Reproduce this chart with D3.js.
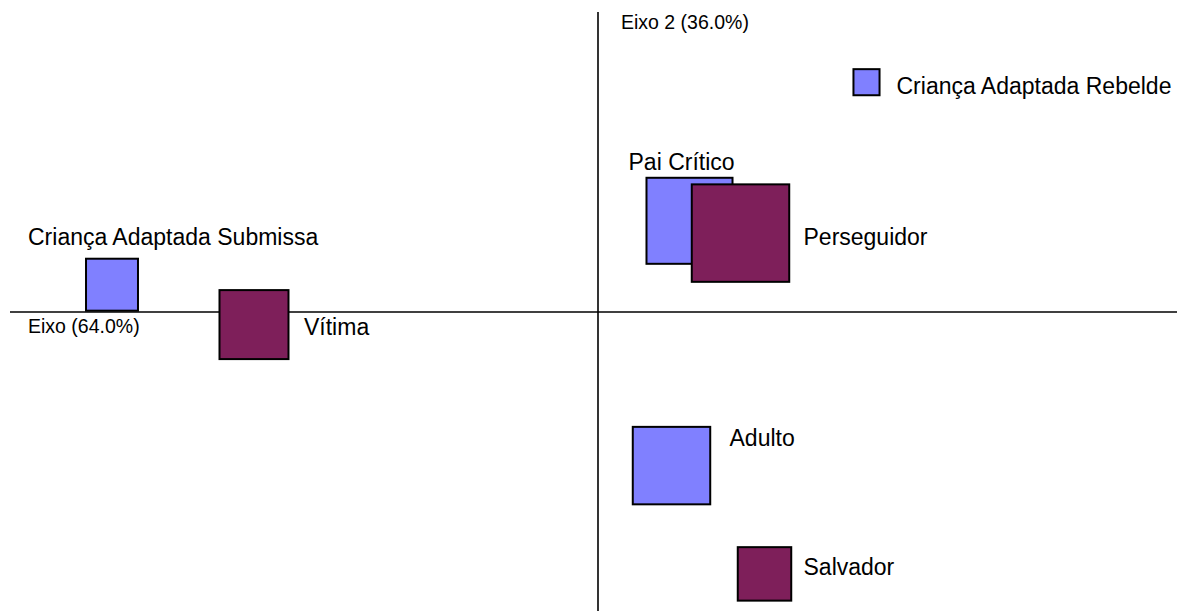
<!DOCTYPE html>
<html>
<head>
<meta charset="utf-8">
<script src="https://cdn.jsdelivr.net/npm/d3@7"></script>
<style>
  body { margin: 0; background: #fff; }
  svg { display: block; font-family: "Liberation Sans", Arial, sans-serif; }
</style>
</head>
<body>
<svg id="chart" width="1177" height="611"></svg>
<script>
  // Estados do ego (azul) e papeis do triangulo dramatico (roxo)
  const categorias = ["Criança Adaptada Submissa", "Criança Adaptada Rebelde", "Pai Crítico", "Adulto",
                      "Vítima", "Perseguidor", "Salvador"];
  const grupos = ["ego", "ego", "ego", "ego", "papel", "papel", "papel"];
  const eixo1 = [-0.972, 0.537, 0.183, 0.147, -0.688, 0.285, 0.333];
  const eixo2 = [0.091, 0.766, 0.304, -0.512, -0.042, 0.263, -0.873];
  const massa = [27, 6.8, 74, 60, 47.6, 95, 28.6];
  const eixoLabels = ["Eixo (64.0%)", "Eixo 2 (36.0%)"];

  // deslocamento dos rotulos em relacao ao centro do ponto
  const labelOffset = [[-84, -40], [30, 12], [-61, -51], [58, -20], [50, 10], [63, 12], [39, 1]];

  const pontos = categorias.map((c, i) => ({
    nome: c, grupo: grupos[i], x: eixo1[i], y: eixo2[i], m: massa[i], off: labelOffset[i]
  }));

  const svg = d3.select("#chart");

  const x = d3.scaleLinear().domain([-1, 1]).range([98, 1098]);
  const y = d3.scaleLinear().domain([-1, 1]).range([612, 12]);
  const side = d3.scaleSqrt().domain([0, 100]).range([0, 100]);
  const color = d3.scaleOrdinal().domain(["ego", "papel"]).range(["#8080ff", "#7e1f5a"]);

  // eixos
  svg.append("line")
    .attr("x1", 10).attr("x2", 1177)
    .attr("y1", y(0)).attr("y2", y(0))
    .attr("stroke", "#000").attr("stroke-width", 1.6);

  svg.append("line")
    .attr("x1", x(0)).attr("x2", x(0))
    .attr("y1", 12).attr("y2", 611)
    .attr("stroke", "#000").attr("stroke-width", 1.6);

  svg.append("text")
    .attr("x", 28).attr("y", y(0) + 21)
    .attr("font-size", 19.5)
    .text(eixoLabels[0]);

  svg.append("text")
    .attr("x", x(0) + 23).attr("y", 29)
    .attr("font-size", 19.5)
    .text(eixoLabels[1]);

  const ordem = pontos.filter(d => d.grupo === "ego").concat(pontos.filter(d => d.grupo === "papel"));

  svg.selectAll(".ponto")
    .data(ordem)
    .enter()
    .append("rect")
    .attr("class", "ponto")
    .attr("x", d => x(d.x) - side(d.m) / 2)
    .attr("y", d => y(d.y) - side(d.m) / 2)
    .attr("width", d => side(d.m))
    .attr("height", d => side(d.m))
    .attr("fill", d => color(d.grupo))
    .attr("stroke", "#000")
    .attr("stroke-width", 2);

  svg.selectAll(".rotulo")
    .data(ordem)
    .enter()
    .append("text")
    .attr("class", "rotulo")
    .attr("x", d => x(d.x) + d.off[0])
    .attr("y", d => y(d.y) + d.off[1])
    .attr("font-size", 23)
    .attr("fill", "#000")
    .text(d => d.nome);
</script>
</body>
</html>
